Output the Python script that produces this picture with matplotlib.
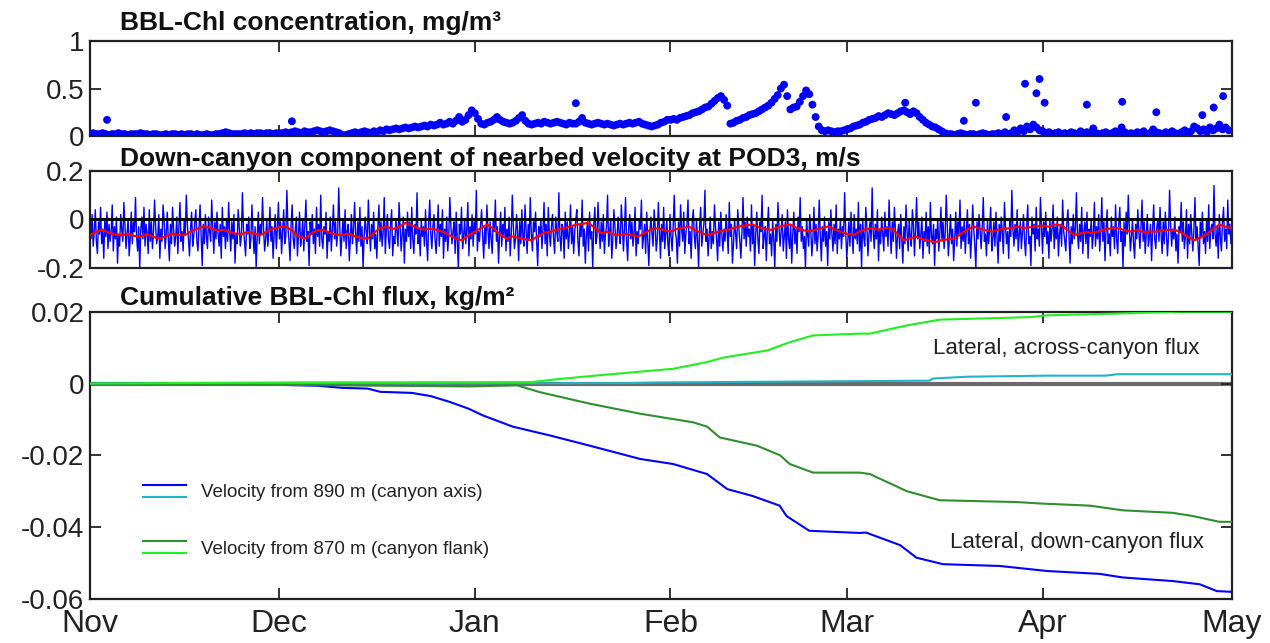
import numpy as np
import matplotlib
matplotlib.use("Agg")
import matplotlib.pyplot as plt
from matplotlib.legend_handler import HandlerBase
from matplotlib.lines import Line2D
from matplotlib.font_manager import FontProperties

plt.rcParams['font.family'] = ['Liberation Sans', 'DejaVu Sans']
plt.rcParams['axes.unicode_minus'] = False

# ---------------- data ----------------
month_labels = ["Nov", "Dec", "Jan", "Feb", "Mar", "Apr", "May"]
month_days = [0, 30, 61, 92, 120, 151, 181]

# BBL-Chl concentration (mg/m3), half-daily from 1 Nov
chl = [
    0.02,0.03,0.02,0.02,0.03,0.02,0.01,0.02,0.02,0.03, 0.02,0.02,0.01,0.02,0.02,0.02,0.03,0.02,0.02,0.01,
    0.02,0.02,0.01,0.01,0.02,0.01,0.02,0.02,0.01,0.02, 0.01,0.02,0.02,0.01,0.02,0.01,0.01,0.02,0.01,0.01,
    0.02,0.02,0.03,0.04,0.03,0.02,0.02,0.02,0.02,0.03, 0.02,0.03,0.02,0.03,0.03,0.02,0.03,0.03,0.02,0.03,
    0.03,0.03,0.04,0.03,0.04,0.05,0.04,0.03,0.05,0.04, 0.04,0.05,0.06,0.05,0.04,0.05,0.06,0.05,0.04,0.03,
    0.01,0.01,0.02,0.03,0.04,0.03,0.04,0.05,0.04,0.03, 0.05,0.04,0.06,0.05,0.07,0.06,0.07,0.08,0.07,0.08,
    0.09,0.08,0.09,0.10,0.09,0.10,0.11,0.10,0.12,0.11, 0.12,0.14,0.12,0.13,0.15,0.13,0.16,0.20,0.15,0.17,
    0.22,0.27,
    0.24,0.18,0.13,0.12,0.14,0.15,0.17,0.20,0.17,0.15, 0.14,0.13,0.14,0.16,0.19,0.22,0.16,0.13,0.12,0.13,
    0.14,0.13,0.15,0.14,0.13,0.14,0.15,0.14,0.13,0.12, 0.14,0.13,0.13,0.15,0.19,0.14,0.13,0.12,0.13,0.14,
    0.13,0.12,0.13,0.12,0.11,0.12,0.13,0.12,0.13,0.14, 0.13,0.14,0.15,0.13,0.12,0.11,0.10,0.11,0.12,0.14,
    0.15,0.17,
    0.17,0.18,0.17,0.19,0.20,0.21,0.22,0.24,0.25,0.26, 0.28,0.30,0.31,0.34,0.37,0.40,0.42,0.38,0.32,0.13,
    0.14,0.16,0.17,0.19,0.20,0.22,0.23,0.24,0.26,0.28, 0.30,0.32,0.35,0.39,0.43,0.50,0.54,0.42,0.28,0.30,
    0.31,0.36,0.42,0.48,0.44,0.33,0.20,0.10,0.06,0.05, 0.06,0.05,0.04,0.05,0.05,0.06,
    0.07,0.08,0.10,0.11,0.12,0.14,0.15,0.17,0.18,0.19, 0.21,0.20,0.22,0.24,0.23,0.22,0.24,0.26,0.27,0.25,
    0.23,0.26,0.24,0.20,0.17,0.14,0.12,0.10,0.09,0.07, 0.05,0.03,0.02,0.02,0.01,0.02,0.03,0.02,0.01,0.02,
    0.02,0.01,0.02,0.03,0.02,0.01,0.02,0.02,0.03,0.02, 0.04,0.02,0.03,0.06,0.04,0.08,0.05,0.10,0.07,0.12,
    0.09,0.06,
    0.05,0.03,0.04,0.02,0.03,0.04,0.02,0.03,0.02,0.04, 0.03,0.02,0.05,0.03,0.04,0.02,0.08,0.03,0.02,0.03,
    0.04,0.02,0.03,0.05,0.03,0.09,0.04,0.02,0.03,0.02, 0.04,0.03,0.05,0.02,0.03,0.07,0.04,0.03,0.02,0.04,
    0.03,0.05,0.03,0.02,0.04,0.06,0.03,0.05,0.10,0.08, 0.05,0.07,0.04,0.09,0.06,0.08,0.12,0.07,0.09,0.06,
]
# isolated high Chl samples (day since 1 Nov, mg/m3)
spike_day = [2.7, 32.0, 77.0, 129.2, 138.5, 140.4, 145.2, 148.2, 150.0, 150.5, 151.3,
             158.0, 163.6, 169.0, 176.3, 178.1, 179.6]
spike_chl = [0.17, 0.155, 0.345, 0.35, 0.16, 0.35, 0.20, 0.55, 0.45, 0.60, 0.35,
             0.33, 0.36, 0.25, 0.22, 0.30, 0.42]

# down-canyon nearbed velocity (cm/s), 6 samples/day from 1 Nov
vel_cm = [
    -3,-8,2,-11,-5,4,-9,-14,-1,-6, 5,-10,-4,-16,0,-7,3,-12,-2,-9,
    -5,6,-13,-3,-8,1,-18,-6,-11,2, -4,-9,7,-2,-12,-6,0,-15,-8,3,
    -10,-1,-5,9,-7,-13,-3,-20,-4,1, -8,5,-11,-2,-6,-14,4,-9,-1,-12,
    -5,8,-3,-10,-7,2,-16,-4,-9,6, 0,-12,-6,3,-8,-17,-2,-10,5,-4,
    -11,-7,1,-14,-3,7,-9,-5,-13,0, -6,10,-2,-8,-15,-4,3,-11,-7,-1,
    4,-9,-13,-3,6,-6,-19,-2,-10,2, -7,-12,1,-5,-9,8,-4,-14,-1,-8,
    3,-6,-11,-2,-16,5,-7,-3,-12,0, -9,7,-5,-13,-1,-8,2,-18,-6,-10,
    4,-3,-11,-7,11,-4,-9,-15,-2,-6, 1,-12,-8,6,-5,-14,-3,-20,-7,3,
    -10,-2,-6,9,-4,-13,-8,0,-11,-5, 5,-9,-3,-16,-6,2,-12,-4,7,-8,
    -1,-14,-5,4,-10,-7,12,-3,-9,-17, -2,6,-8,-12,-4,1,-15,-6,3,-11,
    -7,0,-13,-3,8,-9,-5,-19,-1,-6, 2,-10,-4,-14,5,-7,-2,-11,10,-8,
    -12,-3,-6,3,-16,-5,-9,1,-13,-4, 6,-8,-1,-11,-6,13,-3,-15,-7,0,
    -9,4,-12,-5,-2,-17,-8,2,-10,-4, 7,-6,-14,-1,-9,5,-11,-3,-20,-7,
    1,-5,-10,8,-4,-13,-2,-8,3,-12, -6,-16,-3,6,-9,-1,-11,-5,9,-14,
    -4,2,-8,-12,-2,4,-15,-7,-10,0, -5,-11,7,-3,-13,-6,1,-18,-4,-9,
    3,-7,-1,-12,5,-8,-14,-2,-6,11, -10,-4,-15,0,-7,-3,-11,4,-9,-17,
    -1,8,-6,-12,-3,2,-8,-14,-5,6, -11,-2,-7,4,-16,-4,-9,1,-13,-6,
    9,-3,-10,-5,-1,-14,3,-8,-20,-2, -6,5,-12,-7,0,-10,-4,7,-15,-3,
    -8,2,-11,-1,-6,12,-13,-5,-9,-2, 4,-7,-16,-3,-10,6,-4,-12,-1,-8,
    -14,0,-5,8,-9,-3,-18,-6,3,-11, -2,-7,5,-13,-4,-9,1,-15,-6,10,
    -3,-12,-8,2,-5,-17,-1,-10,4,-7, -11,6,-4,-14,-2,-8,9,-6,-13,-1,
    -5,3,-9,-19,-3,-7,0,-12,-4,7, -10,-2,-15,5,-6,-11,-3,2,-8,-14,
    1,-5,-9,11,-7,-13,-2,-4,-16,3, -8,-1,-12,-6,6,-10,-3,-14,-5,0,
    4,-9,-15,-2,-7,8,-11,-4,-18,-6, -1,-13,3,-8,-5,-20,-2,5,-10,-7,
    7,-4,-12,-1,-9,2,-14,-6,-3,10, -11,-5,0,-16,-8,4,-3,-12,-7,1,
    -6,-10,6,-2,-13,-4,9,-9,-17,-3, 2,-8,-1,-11,-6,5,-15,-5,-10,0,
    -4,8,-12,-7,-2,-14,3,-9,-19,-5, 1,-6,-11,4,-3,-13,-8,7,-4,-16,
    -2,-9,5,-12,-6,0,-10,-15,2,-7, -13,-3,10,-5,-8,-18,-1,-11,6,-4,
    -9,3,-14,-6,-2,8,-10,-5,-16,-1, 4,-7,-12,0,-8,-20,-3,5,-11,-6,
    -2,12,-9,-4,-15,-7,1,-12,-5,-10, 6,-3,-8,-17,-1,-11,3,-6,-13,-4,
    -9,2,-5,-14,7,-7,-2,-18,-10,0, -6,-12,4,-3,-9,-16,-5,9,-8,-1,
    -11,1,-7,-4,-13,6,-10,-2,-19,-6, 3,-8,-14,-1,-5,10,-12,-7,-3,-17,
    -4,5,-10,-6,-15,0,-8,-20,-2,-9, 7,-3,-11,-5,2,-13,-7,-1,-16,4,
    -8,-12,-2,-18,-6,3,-10,-4,-14,1, -5,9,-9,-3,-12,-7,-20,0,-6,-11,
    2,-4,-15,-8,5,-10,-2,-13,-6,8, -7,-17,-3,-9,1,-11,-5,-19,-1,-8,
    4,-6,-13,-2,-10,6,-14,-4,-8,0, -12,-3,-7,11,-5,-16,-9,-1,-11,3,
    -6,-14,2,-8,-4,-10,7,-13,-2,-20, 0,-7,-11,5,-3,-15,-6,-1,-9,13,
    -5,-12,-2,-8,4,-17,-4,-10,1,-6, -13,3,-7,-3,-11,8,-5,-14,-1,-9,
    5,-4,-16,-6,-2,-12,2,-8,-18,-3, -10,6,-5,-13,0,-7,-11,4,-2,-15,
    -4,9,-8,-1,-12,-6,1,-16,-5,-9, 3,-11,-3,-14,7,-7,-10,-2,-19,-4,
    -8,0,-13,-5,5,-9,-1,-12,-6,10, -3,-15,-7,2,-10,-4,-17,-8,3,-11,
    -1,-6,8,-12,-3,-9,0,-14,-5,4, -10,-2,-16,-7,6,-4,-11,-20,-1,-8,
    2,-5,-12,-3,9,-9,-6,-15,0,-10, -4,5,-13,-8,-1,-11,3,-7,-18,-2,
    -9,1,-6,-14,7,-3,-10,-5,-16,0, -7,12,-4,-11,-2,-8,4,-13,-6,-1,
    -12,-5,2,-9,-15,-3,6,-10,-7,-19, 1,-6,-2,-13,5,-8,-4,-11,9,-3,
    -14,-1,-7,3,-10,-5,-16,0,-9,-4, 6,-12,-3,-8,1,-15,-6,-2,-11,8,
    -5,-9,-13,-1,4,-7,-18,-3,-10,2, -8,-4,11,-6,-12,-2,-9,5,-14,-5,
    -1,-10,3,-16,-4,-7,0,-12,-6,7, -11,-3,-8,2,-13,-5,9,-9,-1,-17,
    -4,4,-10,-6,-15,1,-7,-3,-12,6, -8,-14,-2,5,-9,-5,-20,-1,-11,3,
    -6,10,-4,-13,-7,0,-10,-16,-2,-8, 4,-5,-12,-3,8,-9,-1,-14,-6,2,
    -11,-7,-2,-17,-4,6,-8,-12,-3,0, -9,5,-6,-14,-1,-10,3,-5,-15,-7,
    12,-2,-11,-4,-8,1,-13,-6,-18,-3, -5,7,-9,-1,-12,-7,4,-16,-2,-10,
    2,-6,-13,-4,9,-8,-3,-11,-19,-1, -7,3,-10,-5,-14,0,-9,6,-12,-4,
    -2,-8,14,-6,-11,-3,-16,2,-7,-13, -1,5,-9,-4,-12,8,-6,-2,-10,-3,
]
# low-passed velocity (m/s), daily
vel_lp = [
    -0.064,-0.050,-0.043,-0.055,-0.062,-0.066,-0.058,-0.068,-0.071,-0.060,
    -0.072,-0.079,-0.070,-0.058,-0.064,-0.064,-0.050,-0.038,-0.029,-0.034,
    -0.045,-0.043,-0.050,-0.058,-0.060,-0.052,-0.058,-0.064,-0.050,-0.038,
    -0.032,-0.029,-0.045,-0.070,-0.079,-0.060,-0.045,-0.043,-0.055,-0.062,
    -0.064,-0.058,-0.070,-0.076,-0.079,-0.055,-0.036,-0.029,-0.040,-0.030,
    -0.014,-0.025,-0.036,-0.042,-0.038,-0.043,-0.052,-0.066,-0.080,-0.086,
    -0.065,-0.050,-0.035,-0.021,-0.040,-0.062,-0.079,-0.070,-0.076,-0.082,
    -0.086,-0.068,-0.055,-0.050,-0.042,-0.036,-0.030,-0.022,-0.018,-0.014,
    -0.035,-0.057,-0.050,-0.062,-0.064,-0.060,-0.066,-0.069,-0.055,-0.040,
    -0.036,-0.045,-0.050,-0.040,-0.034,-0.031,-0.045,-0.058,-0.064,-0.055,
    -0.048,-0.043,-0.035,-0.028,-0.024,-0.021,-0.032,-0.040,-0.043,-0.032,
    -0.025,-0.021,-0.035,-0.044,-0.050,-0.042,-0.035,-0.029,-0.040,-0.052,
    -0.060,-0.064,-0.050,-0.040,-0.036,-0.042,-0.036,-0.036,-0.060,-0.086,
    -0.078,-0.071,-0.082,-0.088,-0.093,-0.085,-0.082,-0.079,-0.060,-0.042,
    -0.029,-0.038,-0.045,-0.050,-0.042,-0.038,-0.036,-0.030,-0.035,-0.032,
    -0.029,-0.025,-0.030,-0.021,-0.025,-0.045,-0.064,-0.058,-0.052,-0.057,
    -0.048,-0.040,-0.036,-0.036,-0.045,-0.050,-0.044,-0.052,-0.050,-0.050,
    -0.046,-0.043,-0.043,-0.055,-0.072,-0.086,-0.075,-0.060,-0.040,-0.021,
    -0.030,-0.036,
]

# cumulative fluxes (kg/m2): (day, value) pairs
down890_day = [0, 30, 31, 36, 40, 44, 46, 51, 54, 57, 60, 62.3, 67, 73, 79.2, 87.2, 92.4, 97.8,
               101, 105, 109.3, 110.4, 114, 122, 123, 128.4, 131, 135.2, 144.2, 151.7, 160,
               163.7, 171.6, 175.9, 178.6, 181]
down890 = [0, 0, -0.0004, -0.0006, -0.0012, -0.0014, -0.0023, -0.0026, -0.0035, -0.0051,
           -0.007, -0.0089, -0.012, -0.0145, -0.0173, -0.021, -0.0224, -0.0252, -0.0294,
           -0.0313, -0.034, -0.0369, -0.041, -0.0416, -0.0415, -0.045, -0.0485, -0.0503,
           -0.0508, -0.0522, -0.053, -0.054, -0.055, -0.0559, -0.0578, -0.058]
across890_day = [0, 84, 90, 133, 133.6, 139, 151.7, 161, 162.8, 181]
across890 = [0, 0.0001, 0.0003, 0.0008, 0.0014, 0.0019, 0.0022, 0.0022, 0.0026, 0.0026]
down870_day = [0, 33, 60, 67.7, 71.3, 79.2, 87.2, 95.6, 97.8, 99.8, 105.7, 109.4, 110.9, 114.6,
               122, 123.6, 129.5, 134.7, 146.9, 150.6, 158.5, 163.7, 171.6, 174.8, 179, 181]
down870 = [0, -0.0004, -0.0008, -0.0005, -0.0024, -0.0056, -0.0084, -0.0108, -0.012, -0.015,
           -0.0173, -0.020, -0.0224, -0.0248, -0.0248, -0.0252, -0.030, -0.0325, -0.033,
           -0.0334, -0.034, -0.0353, -0.036, -0.0369, -0.0385, -0.0385]
across870_day = [0, 33, 70, 73.4, 81.9, 92.4, 97.8, 100.3, 107.3, 110.9, 114.6, 122, 123.6,
                 129.5, 134.7, 149, 151.7, 162.8, 172.7, 181]
across870 = [0, 0.0003, 0.0004, 0.0011, 0.0025, 0.0041, 0.006, 0.0072, 0.0092, 0.0115, 0.0134,
             0.0139, 0.0139, 0.0162, 0.0178, 0.0185, 0.019, 0.0195, 0.020, 0.020]

legend_labels = ["Velocity from 890 m (canyon axis)", "Velocity from 870 m (canyon flank)"]

# ---------------- styles ----------------
BLUE = "#0000ff"
CYAN = "#22b4c4"
DGREEN = "#2f8f2f"
LGREEN = "#22ee22"
title_font = FontProperties(family=['Liberation Sans', 'DejaVu Sans'], weight='bold', size=19)
note_font = FontProperties(family=['Liberation Sans', 'DejaVu Sans'], size=16)
leg_font = FontProperties(family=['Liberation Sans', 'DejaVu Sans'], size=13.5)

fig = plt.figure(figsize=(12.7, 6.43), dpi=100)
L, W = 90 / 1270, 1142 / 1270
ax1 = fig.add_axes([L, 0.7885, W, 0.1477])
ax2 = fig.add_axes([L, 0.5832, W, 0.1510])
ax3 = fig.add_axes([L, 0.0684, W, 0.4468])

for ax in (ax1, ax2, ax3):
    ax.set_xlim(month_days[0], month_days[-1])
    ax.set_xticks(month_days)
    ax.tick_params(direction='in', top=True, right=True, length=8, width=1.3,
                   labelsize=20, pad=4, colors='#222222')
    for s in ax.spines.values():
        s.set_linewidth(1.6)
        s.set_color('#222222')
    ax.set_facecolor('white')

ax1.set_xticklabels([])
ax2.set_xticklabels([])
ax3.set_xticklabels(month_labels, fontsize=23)
ax3.tick_params(axis='x', pad=7)

# panel 1
t_chl = np.linspace(0, 180.5, len(chl))
ax1.scatter(t_chl, chl, s=32, color=BLUE, edgecolors='none', zorder=3)
ax1.scatter(spike_day, spike_chl, s=32, color=BLUE, edgecolors='none', zorder=3)
ax1.set_ylim(0, 1)
ax1.set_yticks([0, 0.5, 1])
ax1.set_yticklabels(["0", "0.5", "1"])

# panel 2
vel = np.array(vel_cm) / 100.0
t_vel = np.linspace(0, 181, len(vel))
t_lp = np.linspace(0, 181, len(vel_lp))
ax2.plot(t_vel, vel, color=BLUE, lw=1.0, zorder=2)
ax2.axhline(0, color='black', lw=2.2, zorder=3)
ax2.plot(t_lp, vel_lp, color='#ff0000', lw=1.6, zorder=4)
ax2.set_ylim(-0.2, 0.2)
ax2.set_yticks([-0.2, 0, 0.2])
ax2.set_yticklabels(["-0.2", "0", "0.2"])

# panel 3
ax3.axhline(0, color='#6a6a6a', lw=3, zorder=1)
l1, = ax3.plot(down890_day, down890, color=BLUE, lw=1.5, zorder=3)
l2, = ax3.plot(across890_day, across890, color=CYAN, lw=1.5, zorder=3)
l3, = ax3.plot(down870_day, down870, color=DGREEN, lw=1.5, zorder=3)
l4, = ax3.plot(across870_day, across870, color=LGREEN, lw=1.5, zorder=3)
ax3.set_ylim(-0.06, 0.02)
ax3.set_yticks([-0.06, -0.04, -0.02, 0, 0.02])
ax3.set_yticklabels(["-0.06", "-0.04", "-0.02", "0", "0.02"])

ax3.text(175.9, 0.0098, "Lateral, across-canyon flux", ha='right', va='center',
         fontproperties=note_font, color='#222222')
ax3.text(176.5, -0.0443, "Lateral, down-canyon flux", ha='right', va='center',
         fontproperties=note_font, color='#222222')


class PairHandler(HandlerBase):
    def create_artists(self, legend, orig_handle, xdescent, ydescent, width, height,
                       fontsize, trans):
        arts = []
        for frac, h in zip((0.85, 0.15), orig_handle):
            y = -ydescent + height * frac
            ln = Line2D([-xdescent, -xdescent + width], [y, y],
                        color=h.get_color(), lw=h.get_linewidth())
            ln.set_transform(trans)
            arts.append(ln)
        return arts


ax3.legend([(l1, l2), (l3, l4)], legend_labels, handler_map={tuple: PairHandler()},
           loc='upper left', bbox_to_anchor=(0.0464, 0.4055), frameon=False,
           handlelength=2.3, handleheight=1.0, labelspacing=2.0, handletextpad=0.8,
           borderpad=0, borderaxespad=0, prop=leg_font, labelcolor='#222222')

fig.text(120 / 1270, 1 - 23 / 643, "BBL-Chl concentration, mg/m³", fontproperties=title_font,
         va='center', ha='left', color='#111111')
fig.text(120 / 1270, 1 - 159 / 643, "Down-canyon component of nearbed velocity at POD3, m/s",
         fontproperties=title_font, va='center', ha='left', color='#111111')
fig.text(120 / 1270, 1 - 298 / 643, "Cumulative BBL-Chl flux, kg/m²", fontproperties=title_font,
         va='center', ha='left', color='#111111')

fig.savefig("out.png", dpi=100, facecolor='white')
